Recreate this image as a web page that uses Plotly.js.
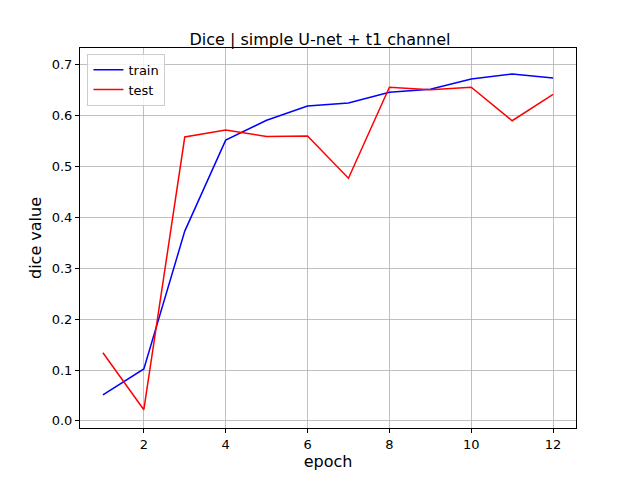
<!DOCTYPE html>
<html>
<head>
<script src="https://cdn.plot.ly/plotly-3.0.0.min.js"></script>
<style>body{margin:0}</style>
</head>
<body>
<div id="graph" style="width:640px;height:480px"></div>
<script>
var epochs = [1,2,3,4,5,6,7,8,9,10,11,12]
var trainDice = [0.051,0.102,0.373,0.552,0.591,0.619,0.625,0.646,0.652,0.672,0.682,0.674]
var testDice = [0.134,0.022,0.558,0.572,0.559,0.560,0.477,0.656,0.651,0.656,0.590,0.642]

var trace1 = {x:epochs, y:trainDice, type:"scatter", mode:"lines", name:"train", line:{color:"blue", width:1.5}}
var trace2 = {x:epochs, y:testDice, type:"scatter", mode:"lines", name:"test", line:{color:"red", width:1.5}}

var ax = {
    showgrid:true, gridcolor:"#b0b0b0", gridwidth:0.8, zeroline:false,
    showline:true, mirror:true, linecolor:"black", linewidth:1,
    ticks:"outside", ticklen:4, tickcolor:"black"
}
var layout = {
    font:{family:"DejaVu Sans", size:13, color:"black"},
    title:{text:"Dice | simple U-net + t1 channel", font:{size:16}, x:0.5, xanchor:"center", y:0.93},
    margin:{l:80, r:64, t:48, b:52},
    xaxis:Object.assign({}, ax, {range:[0.44,12.56], tickvals:[2,4,6,8,10,12], title:{text:"epoch", standoff:4}}),
    yaxis:Object.assign({}, ax, {range:[-0.014,0.733], tickvals:[0,0.1,0.2,0.3,0.4,0.5,0.6,0.7], tickformat:".1f", title:{text:"dice value", standoff:6}}),
    legend:{x:0.015, y:0.985, xanchor:"left", yanchor:"top", bgcolor:"rgba(255,255,255,0.8)", bordercolor:"#ccc", borderwidth:1, font:{size:13}},
    plot_bgcolor:"white", paper_bgcolor:"white"
}
Plotly.newPlot("graph", [trace1, trace2], layout, {staticPlot:true})
</script>
</body>
</html>
